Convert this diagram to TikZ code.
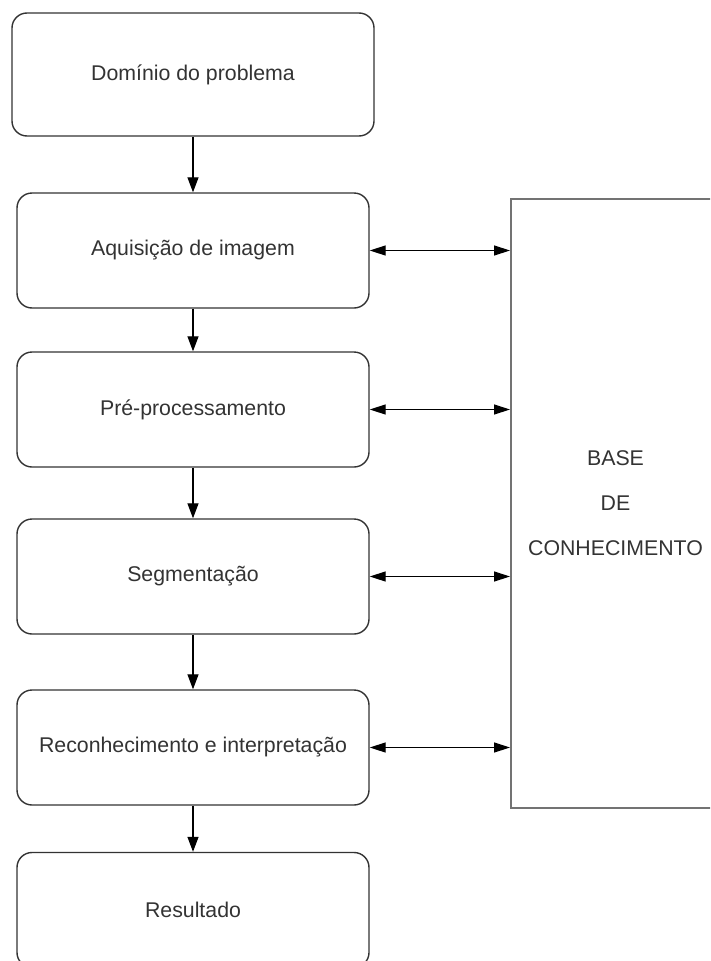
\documentclass[tikz,border=0pt]{standalone}
\usepackage{fontspec}
\setmainfont{Liberation Sans}
\usetikzlibrary{arrows.meta}
\begin{document}
\begin{tikzpicture}[x=1pt,y=-1pt,
  box/.style={draw=black!80, line width=1.4pt, rounded corners=15pt,
    minimum width=352pt, minimum height=115pt, inner sep=0pt,
    font=\fontsize{21.3}{24}\selectfont, text=black!80},
  kbbox/.style={draw=black!55, line width=2pt, minimum width=209pt,
    minimum height=609pt, inner sep=0pt, align=center,
    font=\fontsize{21.3}{45}\selectfont, text=black!80},
  arr/.style={-{Triangle[length=15pt,width=11pt]}, line width=1.3pt, draw=black},
  darr/.style={{Triangle[length=16pt,width=10pt]}-{Triangle[length=16pt,width=10pt]}, line width=1.3pt, draw=black}]
\clip (0,0) rectangle (710,961);
\fill[white] (0,0) rectangle (710,961);
\node[box, minimum width=362pt, minimum height=123pt] (b1) at (193,74.5) {Domínio do problema};
\node[box] (b2) at (193,250.5) {Aquisição de imagem};
\node[box] (b3) at (193,409.5) {Pré-processamento};
\node[box] (b4) at (193,576.5) {Segmentação};
\node[box] (b5) at (193,747.5) {Reconhecimento e interpretação};
\node[box] (b6) at (193,910) {Resultado};
\node[kbbox] (kb) at (615.5,503.5) {BASE\\DE\\CONHECIMENTO};
\draw[arr] (b1.south) -- (b2.north);
\draw[arr] (b2.south) -- (b3.north);
\draw[arr] (b3.south) -- (b4.north);
\draw[arr] (b4.south) -- (b5.north);
\draw[arr] (b5.south) -- (b6.north);
\foreach \b in {b2,b3,b4,b5}{
  \draw[darr] (\b.east) -- (kb.west |- \b.east);
}
\end{tikzpicture}
\end{document}
